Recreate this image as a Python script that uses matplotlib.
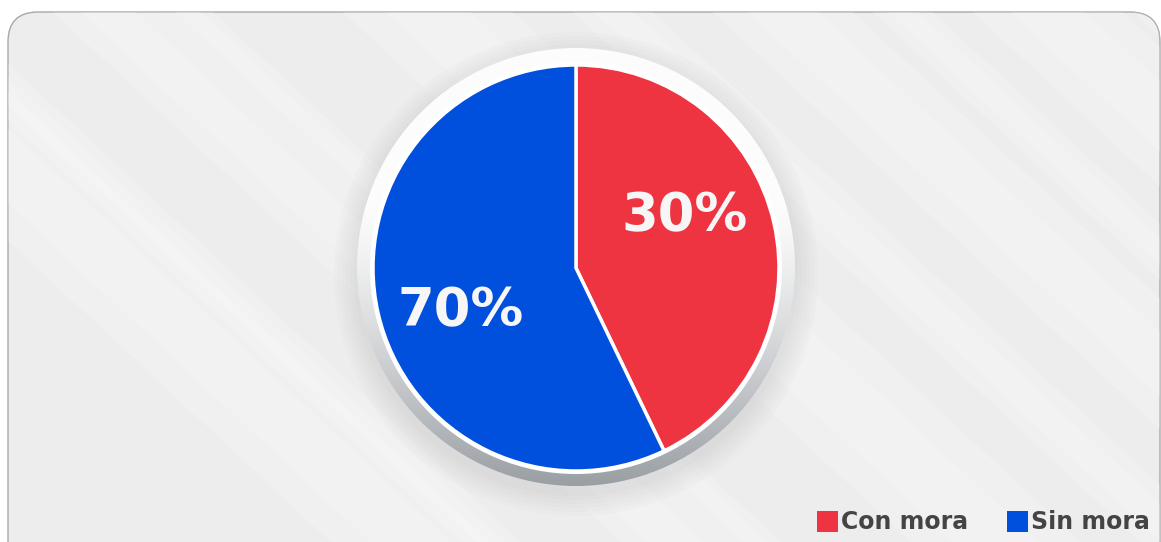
#!/usr/bin/env python3
"""Pie chart: share of loans con mora / sin mora."""
import numpy as np
import matplotlib

matplotlib.use("Agg")
import matplotlib.pyplot as plt
from matplotlib.patches import Circle, FancyBboxPatch, Polygon, Rectangle

categories = ["Con mora", "Sin mora"]
wedge_values = [30, 40]
value_labels = ["30%", "70%"]
colors = ["#EE3341", "#0050DD"]

W, H = 1161, 542


def main():
    fig = plt.figure(figsize=(W / 100, H / 100), dpi=100)
    ax = fig.add_axes([0, 0, 1, 1])
    ax.set_xlim(0, W)
    ax.set_ylim(0, H)
    ax.set_aspect("equal")
    ax.axis("off")
    fig.patch.set_facecolor("white")

    # card background
    card = FancyBboxPatch((8, -40), W - 9, H - 12 + 40,
                          boxstyle="round,pad=0,rounding_size=30",
                          facecolor="#EDEDED", edgecolor="#A8A8A8", linewidth=1.0, zorder=1)
    ax.add_patch(card)

    # diagonal light streaks (soft, overlapping)
    streaks = [(-250, 160, 0.4), (-120, 60, 0.35), (40, 110, 0.35), (150, 50, 0.4),
               (330, 170, 0.35), (560, 80, 0.35), (700, 140, 0.4), (860, 60, 0.35),
               (960, 150, 0.35), (1120, 90, 0.4), (1280, 120, 0.35)]
    for x0, w, a in streaks:
        for k in range(2):
            shrink = k * w * 0.25
            poly = Polygon([(x0 + shrink, H), (x0 + w - shrink, H),
                            (x0 + w - shrink + 600, H - 560), (x0 + shrink + 600, H - 560)],
                           closed=True, facecolor="white", edgecolor="none", alpha=a * 0.5,
                           zorder=2)
            poly.set_clip_path(card)
            ax.add_patch(poly)

    cx, cy, r = 576, H - 268, 203

    # soft shadow
    for k in range(6):
        sh = Circle((cx, cy - 6), 222 + 4 * k, facecolor="#9a9a9a", edgecolor="none",
                    alpha=0.035, zorder=3)
        ax.add_patch(sh)

    # bezel with vertical gradient
    bezel = Circle((cx, cy + 1), 219, facecolor="none", edgecolor="none", zorder=4)
    ax.add_patch(bezel)
    t = np.linspace(0, 1, 256).reshape(-1, 1)
    grad = np.clip((t - 0.35) / 0.65, 0, 1) ** 1.3
    top = np.array([0.99, 0.99, 0.99])
    bot = np.array([0.60, 0.62, 0.64])
    img = top + (bot - top) * grad[..., None]
    img = np.repeat(img, 2, axis=1)
    im = ax.imshow(img, extent=(cx - 220, cx + 220, cy - 220, cy + 220), origin="upper",
                   zorder=4, interpolation="bilinear")
    im.set_clip_path(bezel)
    ax.add_patch(Circle((cx, cy), 206, facecolor="white", edgecolor="none", zorder=5))

    ax.pie(wedge_values, colors=colors, startangle=90, counterclock=False,
           center=(cx, cy), radius=r, frame=True,
           wedgeprops={"edgecolor": "white", "linewidth": 2.5, "zorder": 6})
    ax.set_xlim(0, W)
    ax.set_ylim(0, H)
    ax.axis("off")

    label_pos = [(685, H - 216), (461, H - 311)]
    for (x, y), txt in zip(label_pos, value_labels):
        ax.text(x, y, txt, ha="center", va="center", fontsize=38, fontweight="bold",
                color="#F6F6F6", family="DejaVu Sans", zorder=7)

    # legend
    leg = [(817, categories[0], colors[0]), (1007, categories[1], colors[1])]
    for x, name, col in leg:
        ax.add_patch(Rectangle((x, H - 532), 21, 21, facecolor=col, edgecolor="none", zorder=7))
        ax.text(x + 24, H - 522, name, ha="left", va="center", fontsize=17,
                fontweight="bold", color="#444444", family="DejaVu Sans", zorder=7)

    fig.savefig("out.png", dpi=100)
    plt.close(fig)


if __name__ == "__main__":
    main()
